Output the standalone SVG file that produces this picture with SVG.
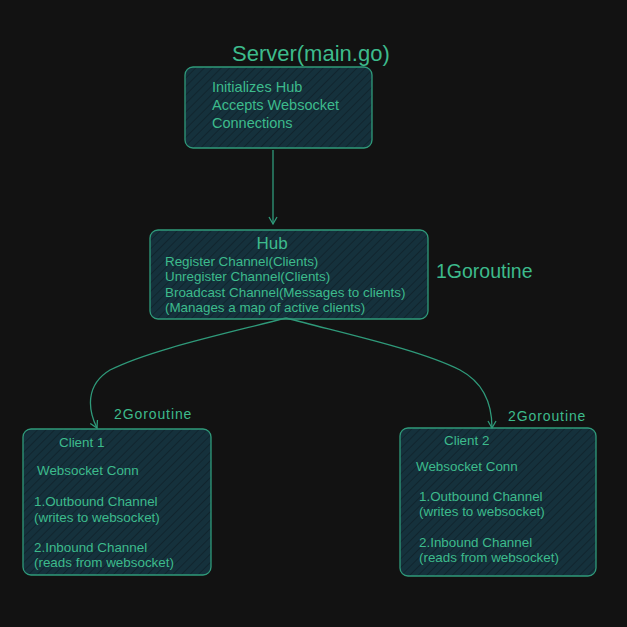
<svg xmlns="http://www.w3.org/2000/svg" width="627" height="627" viewBox="0 0 627 627">
<defs>
<pattern id="hatch" width="6" height="6" patternUnits="userSpaceOnUse" patternTransform="rotate(45)">
<rect width="6" height="6" fill="#15313c"/>
<line x1="0" y1="0" x2="0" y2="6" stroke="#0f2029" stroke-width="1.5"/>
</pattern>
<marker id="arr" markerWidth="10" markerHeight="10" refX="8" refY="5" orient="auto" markerUnits="userSpaceOnUse">
<path d="M1,1 L8,5 L1,9" fill="none" stroke="#2f9a7a" stroke-width="1.3"/>
</marker>
</defs>
<style>
.box{fill:url(#hatch);stroke:#2f9a7a;stroke-width:1.3}
.t{font-family:"Liberation Sans",Arial,sans-serif;fill:#3dbb8c;font-size:13.4px}
.m{font-size:14.5px}
.lbl{font-family:"Liberation Sans",Arial,sans-serif;fill:#3dbb8c}
.c{fill:none;stroke:#2f9a7a;stroke-width:1.3}
</style>
<rect width="627" height="627" fill="#121212"/>
<text class="lbl" x="232" y="61" style="font-size:22px">Server(main.go)</text>
<text class="lbl" x="436" y="278" style="font-size:19.5px">1Goroutine</text>
<text class="lbl" x="114" y="419" style="font-size:14px;letter-spacing:0.9px">2Goroutine</text>
<text class="lbl" x="508" y="421" style="font-size:14px;letter-spacing:0.9px">2Goroutine</text>
<g id="server">
<rect class="box" x="185" y="67" width="187" height="81" rx="8"/>
<text class="t m" x="212" y="92">Initializes Hub</text>
<text class="t m" x="212" y="110">Accepts Websocket</text>
<text class="t m" x="212" y="128">Connections</text>
</g>
<g id="hub">
<rect class="box" x="150" y="230" width="278" height="89" rx="8"/>
<text class="t" x="272" y="249" text-anchor="middle" style="font-size:17px">Hub</text>
<text class="t" x="165" y="266">Register Channel(Clients)</text>
<text class="t" x="165" y="281">Unregister Channel(Clients)</text>
<text class="t" x="165" y="297">Broadcast Channel(Messages to clients)</text>
<text class="t" x="165" y="312">(Manages a map of active clients)</text>
</g>
<g id="client1">
<rect class="box" x="23" y="429" width="188" height="146" rx="8"/>
<text class="t" x="59" y="447">Client 1</text>
<text class="t" x="37" y="475">Websocket Conn</text>
<text class="t" x="34" y="506">1.Outbound Channel</text>
<text class="t" x="34" y="522">(writes to websocket)</text>
<text class="t" x="34" y="552">2.Inbound Channel</text>
<text class="t" x="34" y="567">(reads from websocket)</text>
</g>
<g id="client2">
<rect class="box" x="400" y="428" width="196" height="148" rx="8"/>
<text class="t" x="444" y="445">Client 2</text>
<text class="t" x="416" y="471">Websocket Conn</text>
<text class="t" x="419" y="501">1.Outbound Channel</text>
<text class="t" x="419" y="516">(writes to websocket)</text>
<text class="t" x="419" y="547">2.Inbound Channel</text>
<text class="t" x="419" y="562">(reads from websocket)</text>
</g>
<g id="connectors">
<path class="c" d="M273,150 L273,224" marker-end="url(#arr)"/>
<path class="c" d="M286,318 C220,335 150,350 110,370 C85,385 88,410 97,428" marker-end="url(#arr)"/>
<path class="c" d="M286,318 C350,335 420,350 460,370 C488,385 492,410 492,428" marker-end="url(#arr)"/>
</g>
</svg>
